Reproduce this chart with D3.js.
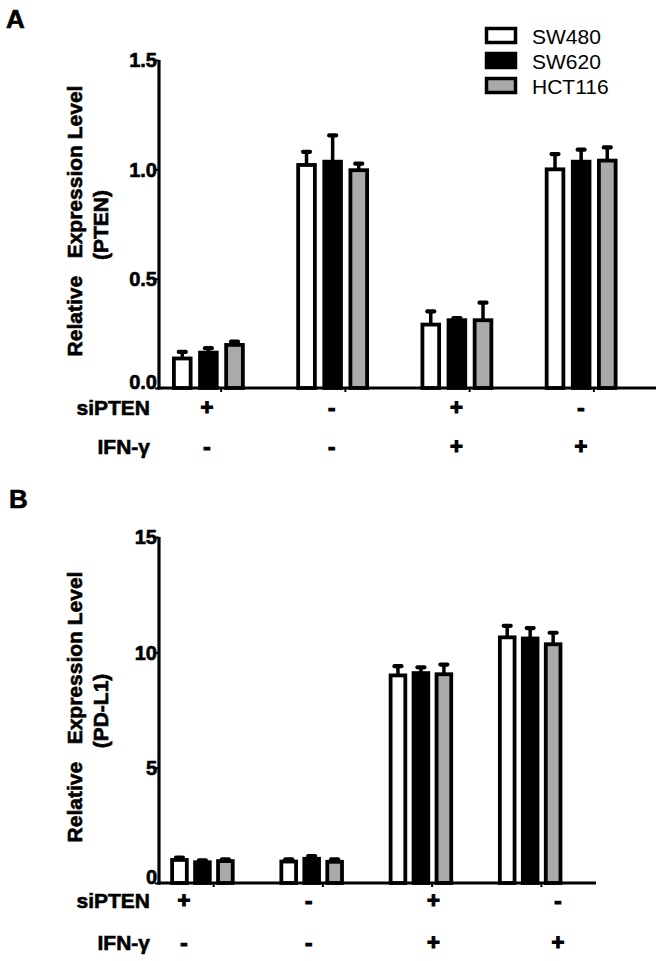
<!DOCTYPE html>
<html>
<head>
<meta charset="utf-8">
<script src="https://cdn.jsdelivr.net/npm/d3@7"></script>
<style>
  html, body { margin: 0; padding: 0; background: #fff; }
  svg { display: block; }
  text { font-family: "Liberation Sans", Arial, sans-serif; }
  text.heavy { stroke: #000; stroke-width: 0.6px; }
</style>
</head>
<body>
<script>
// ---------- data ----------
const groups = ["g1", "g2", "g3", "g4"];
const series = ["SW480", "SW620", "HCT116"];
const siPTEN = ["+", "-", "+", "-"];
const ifnGamma = ["-", "-", "+", "+"];

// Panel A: PTEN
const ptenSW480 = [0.135, 1.02, 0.29, 1.00];
const ptenSW620 = [0.162, 1.035, 0.31, 1.035];
const ptenHCT116 = [0.197, 0.996, 0.31, 1.04];
const ptenErrSW480 = [0.03, 0.06, 0.06, 0.07];
const ptenErrSW620 = [0.02, 0.12, 0.01, 0.055];
const ptenErrHCT116 = [0.015, 0.03, 0.08, 0.06];
const ptenTicks = [0, 0.5, 1.0, 1.5];

// Panel B: PD-L1
const pdl1SW480 = [1.0, 0.93, 9.0, 10.65];
const pdl1SW620 = [0.9, 1.05, 9.1, 10.6];
const pdl1HCT116 = [0.95, 0.92, 9.05, 10.35];
const pdl1ErrSW480 = [0.1, 0.1, 0.4, 0.5];
const pdl1ErrSW620 = [0.08, 0.12, 0.25, 0.45];
const pdl1ErrHCT116 = [0.08, 0.1, 0.42, 0.5];
const pdl1Ticks = [0, 5, 10, 15];

const fills = ["#ffffff", "#000000", "#aaaaaa"];

// ---------- drawing ----------
const W = 662, H = 961;
const svg = d3.select("body").append("svg").attr("width", W).attr("height", H);
const FONT = '"Liberation Sans", Arial, sans-serif';
const BAR_STROKE = 3.8;

function drawPanel(cfg) {
  const g = svg.append("g");
  const y = d3.scaleLinear().domain(cfg.domain).range([cfg.y0, cfg.y1]);
  const xBand = d3.scaleBand().domain(groups).range([cfg.x0, cfg.x1]).padding(0);
  const bw = xBand.bandwidth();
  const sub = d3.scaleBand().domain(series).range([bw * 0.12, bw * 0.675]).paddingInner(0.36);

  const data = [];
  groups.forEach((grp, gi) => {
    series.forEach((s, si) => {
      data.push({grp, s, si, v: cfg.values[si][gi], e: cfg.errs[si][gi]});
    });
  });
  const cx = d => xBand(d.grp) + sub(d.s) + sub.bandwidth() / 2;

  // error bars
  const eb = g.append("g");
  eb.selectAll("line.stem").data(data).join("line")
    .attr("x1", cx).attr("x2", cx)
    .attr("y1", d => y(d.v))
    .attr("y2", d => y(d.v + d.e))
    .attr("stroke", "#000").attr("stroke-width", 3.5);
  eb.selectAll("line.cap").data(data).join("line")
    .attr("x1", d => cx(d) - 3.5)
    .attr("x2", d => cx(d) + 3.5)
    .attr("y1", d => y(d.v + d.e))
    .attr("y2", d => y(d.v + d.e))
    .attr("stroke", "#000").attr("stroke-width", 4.2).attr("stroke-linecap", "round");

  // bars
  g.append("g").selectAll("rect").data(data).join("rect")
    .attr("x", d => xBand(d.grp) + sub(d.s))
    .attr("width", sub.bandwidth())
    .attr("y", d => y(d.v))
    .attr("height", d => y(0) - y(d.v))
    .attr("fill", d => fills[d.si])
    .attr("stroke", "#000").attr("stroke-width", BAR_STROKE);

  // y axis
  const ya = g.append("g").attr("transform", `translate(${cfg.x0},0)`)
    .call(d3.axisLeft(y).tickValues(cfg.ticks).tickFormat(cfg.fmt).tickSize(4).tickSizeOuter(0).tickPadding(-2));
  ya.select(".domain").attr("stroke-width", 3.2).attr("d", `M0,${cfg.y0 + 1.6}V${cfg.y1}`);
  ya.selectAll(".tick line").attr("stroke-width", 2);
  ya.selectAll(".tick text")
    .attr("class", "heavy")
    .attr("font-family", FONT).attr("font-size", 20).attr("font-weight", "bold").attr("fill", "#000")
    .attr("dy", d => d === 0 ? "0.02em" : "0.34em");

  // x axis
  const xa = g.append("g").attr("transform", `translate(0,${cfg.y0})`)
    .call(d3.axisBottom(xBand).tickSize(4).tickSizeOuter(0).tickFormat(""));
  xa.select(".domain").attr("stroke-width", 3.2).attr("d", `M${cfg.x0 - 1.6},0H${cfg.x1}`);
  xa.selectAll(".tick line").attr("stroke-width", 2);

  // y label
  const lblCy = (cfg.y0 + cfg.y1) / 2;
  g.append("text").attr("class", "heavy")
    .attr("transform", `translate(82,${lblCy - 3}) rotate(-90)`)
    .attr("text-anchor", "middle").attr("font-size", 21).attr("font-weight", "bold")
    .style("white-space", "pre")
    .text("Relative   Expression Level");
  g.append("text").attr("class", "heavy")
    .attr("transform", `translate(108,${lblCy + 1}) rotate(-90)`)
    .attr("text-anchor", "middle").attr("font-size", 21).attr("font-weight", "bold")
    .text(cfg.gene);

  // condition rows
  const signX = d3.scalePoint().domain(groups).range(cfg.signRange);
  const rows = [["siPTEN", siPTEN, cfg.row1], ["IFN-\u03b3", ifnGamma, cfg.row2]];
  rows.forEach(([name, arr, by]) => {
    g.append("text").attr("class", "heavy").attr("x", 150).attr("y", by)
      .attr("text-anchor", "end").attr("font-size", 21).attr("font-weight", "bold")
      .text(name);
    g.append("g").selectAll("text").data(groups).join("text")
      .attr("class", "heavy")
      .attr("x", d => signX(d)).attr("y", by)
      .attr("text-anchor", "middle").attr("font-size", 22).attr("font-weight", "bold")
      .style("stroke-width", "1.2px")
      .text((d, i) => arr[i]);
  });

  // panel letter
  g.append("text").attr("class", "heavy").attr("x", cfg.letterX).attr("y", cfg.letterY)
    .attr("font-size", 26).attr("font-weight", "bold").text(cfg.letter);
}

drawPanel({
  letter: "A", letterX: 6, letterY: 28,
  domain: [0, 1.5], y0: 388, y1: 60, x0: 159, x1: 656,
  values: [ptenSW480, ptenSW620, ptenHCT116],
  errs: [ptenErrSW480, ptenErrSW620, ptenErrHCT116],
  ticks: ptenTicks, fmt: d3.format(".1f"),
  gene: "(PTEN)",
  signRange: [207, 581], row1: 415, row2: 454
});

drawPanel({
  letter: "B", letterX: 9, letterY: 508,
  domain: [0, 15], y0: 883, y1: 537, x0: 159, x1: 596,
  values: [pdl1SW480, pdl1SW620, pdl1HCT116],
  errs: [pdl1ErrSW480, pdl1ErrSW620, pdl1ErrHCT116],
  ticks: pdl1Ticks, fmt: d3.format("d"),
  gene: "(PD-L1)",
  signRange: [184, 558], row1: 908, row2: 950
});

// legend (panel A)
const legend = svg.append("g");
const legY = d3.scalePoint().domain(series).range([36, 86]);
legend.selectAll("rect").data(series).join("rect")
  .attr("x", 486.5).attr("y", d => legY(d) - 7.5)
  .attr("width", 29).attr("height", 14)
  .attr("fill", (d, i) => fills[i]).attr("stroke", "#000").attr("stroke-width", 3.5);
legend.selectAll("text").data(series).join("text")
  .attr("x", 532).attr("y", d => legY(d) + 7.5)
  .attr("font-size", 21).attr("fill", "#000")
  .text(d => d);
</script>
</body>
</html>
